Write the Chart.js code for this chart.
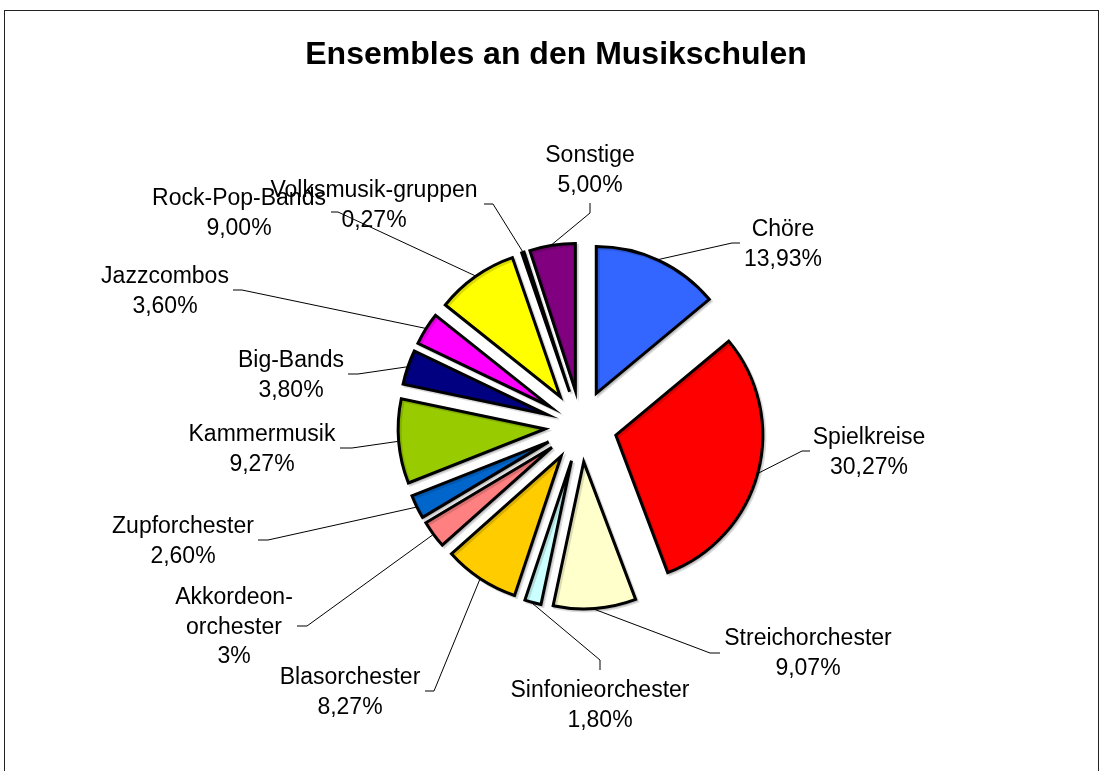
<!DOCTYPE html>
<html>
<head>
<meta charset="utf-8">
<title>Ensembles an den Musikschulen</title>
<script src="https://cdn.jsdelivr.net/npm/chart.js@4/dist/chart.umd.min.js"></script>
<style>
  html, body { margin: 0; padding: 0; background: #fff; }
  canvas { display: block; }
</style>
</head>
<body>
<canvas id="myChart" width="1101" height="771"></canvas>
<script>
// DATA
var categories = ['Chöre', 'Spielkreise', 'Streichorchester', 'Sinfonieorchester', 'Blasorchester',
  'Akkordeon-orchester', 'Zupforchester', 'Kammermusik', 'Big-Bands', 'Jazzcombos',
  'Rock-Pop-Bands', 'Volksmusik-gruppen', 'Sonstige'];
var shares = [13.93, 30.27, 9.07, 1.80, 8.27, 3, 2.60, 9.27, 3.80, 3.60, 9.00, 0.27, 5.00];
var percentLabels = ['13,93%', '30,27%', '9,07%', '1,80%', '8,27%', '3%', '2,60%', '9,27%',
  '3,80%', '3,60%', '9,00%', '0,27%', '5,00%'];
var sliceColors = ['#3366FF', '#FF0000', '#FFFFCC', '#CCFFFF', '#FFCC00', '#FF8080', '#0066CC',
  '#99CC00', '#000080', '#FF00FF', '#FFFF00', '#808080', '#800080'];

var chartTitle = 'Ensembles an den Musikschulen';

// LAYOUT (label text position: center x, first baseline; leader stub x1,y1 -> x2,y2)
var EXPLODE = 36;
var labelLayout = [
  { x: 783, y: 236, stub: [740, 243, 732, 243] },
  { x: 869, y: 444, stub: [810, 451, 802, 451] },
  { x: 808, y: 645, stub: [720, 653, 710, 653] },
  { x: 600, y: 697, stub: [600, 670, 600, 660] },
  { x: 350, y: 684, stub: [425, 691, 434, 691] },
  { x: 234, y: 604, stub: [297, 626, 307, 626], wrap: true },
  { x: 183, y: 533, stub: [258, 540, 268, 540] },
  { x: 262, y: 441, stub: [340, 448, 352, 448] },
  { x: 291, y: 367, stub: [348, 374, 358, 374] },
  { x: 165, y: 283, stub: [233, 290, 242, 290] },
  { x: 239, y: 205, stub: [331, 212, 338, 212] },
  { x: 374, y: 197, stub: [484, 204, 493, 204] },
  { x: 590, y: 162, stub: [590, 203, 590, 213] }
];
var FONT = '"Liberation Sans", Arial, sans-serif';

// frame around the chart
var framePlugin = {
  id: 'frame',
  beforeDraw: function (chart) {
    var c = chart.ctx;
    c.save();
    c.fillStyle = '#fff';
    c.fillRect(0, 0, chart.width, chart.height);
    c.strokeStyle = '#222';
    c.lineWidth = 1;
    c.strokeRect(4.5, 10.5, 1094, 800);
    c.restore();
  }
};

// pull every slice out along its middle angle (with a faint shadow)
var explodePlugin = {
  id: 'explode',
  beforeDatasetDraw: function (chart, args) {
    var c = chart.ctx;
    args.meta.data.forEach(function (arc) {
      var mid = (arc.startAngle + arc.endAngle) / 2;
      c.save();
      c.translate(Math.cos(mid) * EXPLODE, Math.sin(mid) * EXPLODE);
      c.shadowColor = 'rgba(0,0,0,0.14)';
      c.shadowOffsetX = 2;
      c.shadowOffsetY = 2;
      c.shadowBlur = 0;
      arc.draw(c, chart.chartArea);
      c.restore();
    });
    return false;
  }
};

// labels with leader lines + title
var labelPlugin = {
  id: 'sliceLabels',
  afterDatasetsDraw: function (chart) {
    var c = chart.ctx;
    var meta = chart.getDatasetMeta(0);
    c.save();
    c.strokeStyle = '#000';
    c.lineWidth = 1;
    c.fillStyle = '#000';
    c.textAlign = 'center';
    c.textBaseline = 'alphabetic';
    meta.data.forEach(function (arc, i) {
      var L = labelLayout[i];
      var mid = (arc.startAngle + arc.endAngle) / 2;
      var r = arc.outerRadius + EXPLODE + 1;
      var ax = arc.x + Math.cos(mid) * r;
      var ay = arc.y + Math.sin(mid) * r;
      c.beginPath();
      c.moveTo(L.stub[0], L.stub[1]);
      c.lineTo(L.stub[2], L.stub[3]);
      c.lineTo(ax, ay);
      c.stroke();
    });
    c.font = '23px ' + FONT;
    meta.data.forEach(function (arc, i) {
      var L = labelLayout[i];
      var name = L.wrap ? categories[i].replace('-', '-\n') : categories[i];
      var lines = name.split('\n').concat([percentLabels[i]]);
      lines.forEach(function (t, k) {
        c.fillText(t, L.x, L.y + k * 29.5);
      });
    });
    c.font = 'bold 32px ' + FONT;
    c.fillText(chartTitle, 556, 64);
    c.restore();
  }
};

var ctx = document.getElementById('myChart');
var myChart = new Chart(ctx, {
  type: 'pie',
  data: {
    labels: categories,
    datasets: [{
      data: shares,
      backgroundColor: sliceColors,
      borderColor: '#000',
      borderWidth: 3,
      borderJoinStyle: 'miter',
      radius: 147,
      offset: 0,
      hoverOffset: 0
    }]
  },
  options: {
    responsive: false,
    animation: false,
    events: [],
    layout: { padding: { left: 281, right: 220, top: 126, bottom: 45 } },
    plugins: {
      legend: { display: false },
      tooltip: { enabled: false },
      title: { display: false }
    }
  },
  plugins: [framePlugin, explodePlugin, labelPlugin]
});
</script>
</body>
</html>
